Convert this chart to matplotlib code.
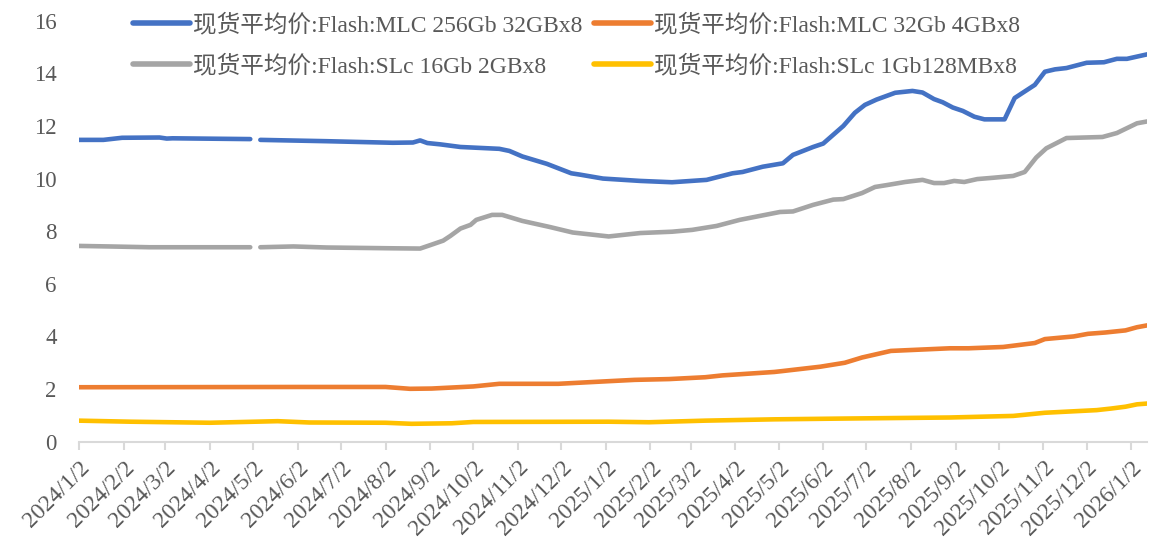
import numpy as np
import pandas as pd
import matplotlib
matplotlib.use('Agg')
import matplotlib.pyplot as plt

# spot average prices (NaN = holiday gap)
blue_dates = ['2024-01-02','2024-01-19','2024-02-01','2024-02-27','2024-03-03','2024-03-07','2024-04-30',
              '2024-05-03',
              '2024-05-07','2024-06-22','2024-08-07','2024-08-21','2024-08-26','2024-08-31','2024-09-09',
              '2024-09-23','2024-10-20','2024-10-27','2024-11-05','2024-11-22','2024-12-09','2024-12-15',
              '2024-12-31','2025-01-26','2025-02-17','2025-03-13','2025-03-31','2025-04-07','2025-04-21',
              '2025-05-05','2025-05-12','2025-05-26','2025-06-02','2025-06-16','2025-06-24','2025-07-01',
              '2025-07-09','2025-07-22','2025-08-03','2025-08-10','2025-08-18','2025-08-24','2025-08-31',
              '2025-09-07','2025-09-15','2025-09-22','2025-10-06','2025-10-13','2025-10-27','2025-11-03',
              '2025-11-10','2025-11-18','2025-12-02','2025-12-14','2025-12-23','2025-12-30','2026-01-13']
blue_vals = [11.47,11.47,11.55,11.56,11.52,11.53,11.5,
             np.nan,
             11.47,11.42,11.36,11.37,11.45,11.35,11.3,
             11.2,11.13,11.05,10.84,10.56,10.2,10.15,
             10.0,9.91,9.86,9.95,10.2,10.25,10.45,
             10.58,10.9,11.2,11.33,12.0,12.5,12.8,
             13.0,13.26,13.33,13.27,13.02,12.9,12.7,
             12.57,12.35,12.25,12.25,13.06,13.56,14.06,
             14.15,14.2,14.4,14.42,14.55,14.55,14.72]

gray_dates = ['2024-01-02','2024-01-23','2024-02-20','2024-04-30',
              '2024-05-03',
              '2024-05-07','2024-05-30','2024-06-22','2024-08-07','2024-08-26','2024-09-02','2024-09-11',
              '2024-09-16','2024-09-23','2024-09-30','2024-10-04','2024-10-15','2024-10-22','2024-11-05',
              '2024-11-24','2024-12-10','2025-01-04','2025-01-26','2025-02-17','2025-03-03','2025-03-20',
              '2025-04-05','2025-04-19','2025-05-03','2025-05-12','2025-05-26','2025-06-09','2025-06-16',
              '2025-06-29','2025-07-08','2025-07-16','2025-07-29','2025-08-10','2025-08-18','2025-08-25',
              '2025-09-01','2025-09-08','2025-09-17','2025-09-28','2025-10-12','2025-10-20','2025-10-28',
              '2025-11-04','2025-11-18','2025-12-13','2025-12-23','2026-01-06','2026-01-13']
gray_vals = [7.44,7.42,7.39,7.39,
             np.nan,
             7.39,7.42,7.38,7.35,7.34,7.47,7.64,
             7.82,8.1,8.24,8.43,8.62,8.62,8.39,
             8.16,7.95,7.8,7.93,7.98,8.05,8.2,
             8.43,8.58,8.73,8.75,9.0,9.2,9.22,
             9.45,9.68,9.75,9.87,9.95,9.83,9.83,
             9.91,9.87,9.98,10.03,10.1,10.25,10.8,
             11.15,11.54,11.58,11.73,12.1,12.17]

orange_dates = ['2024-01-02','2024-06-05','2024-08-02','2024-08-19','2024-09-03','2024-10-02','2024-10-20',
                '2024-11-30','2025-01-04','2025-01-22','2025-02-15','2025-03-12','2025-03-24','2025-04-29',
                '2025-05-04','2025-05-31','2025-06-17','2025-06-29','2025-07-19','2025-08-29','2025-09-11',
                '2025-10-05','2025-10-27','2025-11-03','2025-11-23','2025-12-03','2025-12-15','2025-12-29',
                '2026-01-06','2026-01-13']
orange_vals = [2.07,2.08,2.08,2.01,2.02,2.1,2.2,
               2.2,2.3,2.35,2.38,2.45,2.52,2.65,
               2.68,2.85,3.0,3.2,3.45,3.55,3.55,
               3.6,3.75,3.9,4.0,4.1,4.15,4.23,
               4.35,4.42]

yellow_dates = ['2024-01-02','2024-02-07','2024-04-02','2024-05-19','2024-06-10','2024-08-02','2024-08-20',
                '2024-09-17','2024-10-02','2025-01-04','2025-02-01','2025-03-12','2025-04-29','2025-06-17',
                '2025-08-29','2025-10-12','2025-11-03','2025-12-09','2025-12-19','2025-12-29','2026-01-06',
                '2026-01-13']
yellow_vals = [0.8,0.76,0.72,0.78,0.73,0.72,0.68,
               0.7,0.75,0.76,0.74,0.8,0.85,0.88,
               0.92,0.98,1.1,1.2,1.26,1.33,1.42,
               1.45]

labels = ['现货平均价:Flash:MLC 256Gb 32GBx8', '现货平均价:Flash:MLC 32Gb 4GBx8',
          '现货平均价:Flash:SLc 16Gb 2GBx8', '现货平均价:Flash:SLc 1Gb128MBx8']
colors = ['#4472C4', '#ED7D31', '#A5A5A5', '#FFC000']

tick_dates = pd.date_range('2024-01-01', '2026-01-01', freq='MS') + pd.Timedelta(days=1)
tick_labels = [f'{d.year}/{d.month}/{d.day}' for d in tick_dates]

fig = plt.figure(figsize=(11.51, 5.47), dpi=100)
ax = fig.add_axes([0.0686, 0.1925, 0.928, 0.7697])

series = [(blue_dates, blue_vals), (orange_dates, orange_vals),
          (gray_dates, gray_vals), (yellow_dates, yellow_vals)]
lines = []
for (dts, vals), c, lab in zip(series, colors, labels):
    ln, = ax.plot(pd.to_datetime(dts), vals, color=c, lw=3.3, label=lab,
                  solid_capstyle='round', solid_joinstyle='round')
    lines.append(ln)

ax.set_xlim(pd.Timestamp('2024-01-02'), pd.Timestamp('2026-01-13'))
ax.set_ylim(0, 16)
ax.set_yticks(np.arange(0, 17, 2))
ax.set_xticks(tick_dates)
ax.set_xticklabels(tick_labels, rotation=45, ha='right', va='top', rotation_mode='anchor')

for s in ['top', 'right', 'left']:
    ax.spines[s].set_visible(False)
ax.spines['bottom'].set_color('#D9D9D9')
ax.spines['bottom'].set_linewidth(1.5)
ax.tick_params(axis='x', length=6, width=1.5, color='#D9D9D9', pad=5,
               labelcolor='#595959', labelsize=17)
ax.tick_params(axis='y', length=0, pad=16, labelcolor='#595959', labelsize=16.5)
for t in ax.get_xticklabels() + ax.get_yticklabels():
    t.set_fontfamily(['Liberation Serif', 'Noto Sans CJK SC'])

leg_font = {'family': ['Liberation Serif', 'Noto Sans CJK SC'], 'size': 17}
leg_kw = dict(loc='upper left', frameon=False, prop=leg_font, handlelength=2.4,
              handletextpad=0.15, labelspacing=0.8, borderpad=0, borderaxespad=0,
              labelcolor='#595959')
leg1 = fig.legend([lines[0], lines[2]], [labels[0], labels[2]],
                  bbox_to_anchor=(133 / 1151, 1 - 13 / 547), **leg_kw)
leg2 = fig.legend([lines[1], lines[3]], [labels[1], labels[3]],
                  bbox_to_anchor=(594 / 1151, 1 - 13 / 547), **leg_kw)
for lg in (leg1, leg2):
    for h in lg.legend_handles:
        h.set_linewidth(4)

fig.savefig('out.png', dpi=100)
